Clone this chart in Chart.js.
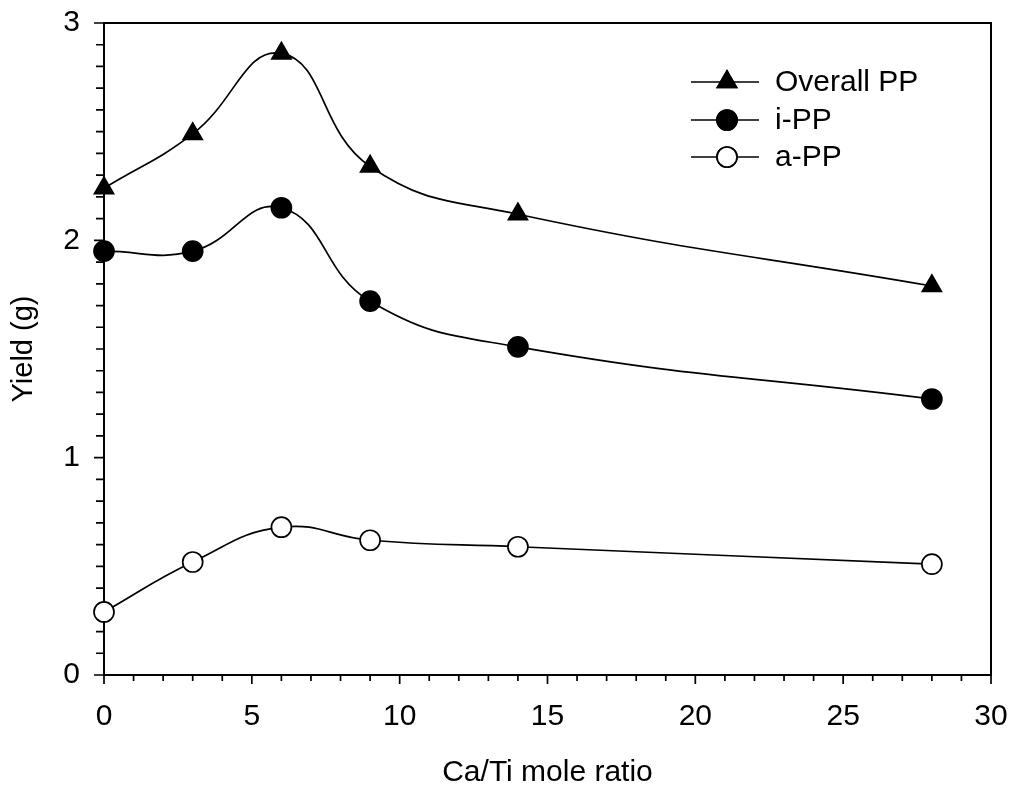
<!DOCTYPE html>
<html>
<head>
<meta charset="utf-8">
<script src="https://cdn.jsdelivr.net/npm/chart.js@4"></script>
<style>
  html, body { margin: 0; padding: 0; background: #fff; }
  #wrap { width: 1016px; height: 791px; }
</style>
</head>
<body>
<div id="wrap"><canvas id="grafico"></canvas></div>
<script>
const ratios = [0, 3, 6, 9, 14, 28];
const overallPP = [2.24, 2.49, 2.86, 2.34, 2.12, 1.79];
const isoPP = [1.95, 1.95, 2.15, 1.72, 1.51, 1.27];
const atacPP = [0.29, 0.52, 0.68, 0.62, 0.59, 0.51];
const seriesNames = ['Overall PP', 'i-PP', 'a-PP'];

const FONT = "'Liberation Sans', Arial, sans-serif";

function puntos(valores) {
    return ratios.map((x, i) => ({ x: x, y: valores[i] }));
}

function serie(label, valores, estilo, relleno, radio) {
    return {
        label: label,
        data: puntos(valores),
        showLine: true,
        tension: 0.45,
        borderColor: '#000',
        borderWidth: 1.7,
        pointStyle: estilo,
        pointRadius: radio,
        pointHoverRadius: radio,
        pointBackgroundColor: relleno,
        pointBorderColor: '#000',
        pointBorderWidth: 1.7,
        clip: false
    };
}

// marcas menores, marco y leyenda
const extras = {
    id: 'extras',
    beforeDatasetsDraw(chart) {
        const ctx = chart.ctx;
        const a = chart.chartArea;
        const xs = chart.scales.x;
        const ys = chart.scales.y;
        ctx.save();
        ctx.strokeStyle = '#000';
        ctx.lineWidth = 2;
        ctx.beginPath();
        ctx.moveTo(a.left, a.top);
        ctx.lineTo(a.right, a.top);
        ctx.lineTo(a.right, a.bottom);
        ctx.stroke();

        ctx.lineWidth = 1.7;
        ctx.beginPath();
        for (let i = 0; i <= 30; i++) {
            const px = xs.getPixelForValue(i);
            const len = i % 5 === 0 ? 9 : 6;
            ctx.moveTo(px, a.bottom);
            ctx.lineTo(px, a.bottom + len);
        }
        for (let i = 0; i <= 30; i++) {
            const py = ys.getPixelForValue(i / 10);
            const len = i % 10 === 0 ? 10 : 8;
            ctx.moveTo(a.left, py);
            ctx.lineTo(a.left - len, py);
        }
        ctx.stroke();
        ctx.restore();
    },
    afterDraw(chart) {
        const ctx = chart.ctx;
        const x0 = 691, x1 = 759, xm = 727, xt = 775;
        const filas = [82, 120, 157];
        ctx.save();
        ctx.strokeStyle = '#000';
        ctx.font = '30px ' + FONT;
        ctx.textBaseline = 'middle';
        chart.data.datasets.forEach((ds, i) => {
            const y = filas[i];
            ctx.beginPath();
            ctx.lineWidth = 1.7;
            ctx.moveTo(x0, y);
            ctx.lineTo(x1, y);
            ctx.stroke();
            Chart.helpers.drawPoint(ctx, {
                pointStyle: ds.pointStyle,
                radius: ds.pointRadius,
                borderWidth: ds.pointBorderWidth,
                rotation: 0
            }, xm, y);
            ctx.fillStyle = ds.pointBackgroundColor;
            ctx.fill();
            ctx.stroke();
            ctx.fillStyle = '#000';
            ctx.fillText(ds.label, xt, y + 1);
        });
        ctx.restore();
    }
};

new Chart(document.getElementById('grafico').getContext('2d'), {
    type: 'scatter',
    data: {
        datasets: [
            serie(seriesNames[0], overallPP, 'triangle', '#000', 11),
            serie(seriesNames[1], isoPP, 'circle', '#000', 10),
            serie(seriesNames[2], atacPP, 'circle', '#fff', 10)
        ]
    },
    options: {
        responsive: true,
        maintainAspectRatio: false,
        animation: false,
        layout: { padding: { top: 23, right: 25, left: 0, bottom: 0 } },
        plugins: {
            legend: { display: false },
            tooltip: { enabled: false }
        },
        scales: {
            x: {
                type: 'linear',
                min: 0,
                max: 30,
                afterFit(scale) {
                    scale.height = 116;
                    scale.paddingLeft = 0;
                    scale.paddingRight = 0;
                },
                grid: { display: false, drawTicks: false },
                border: { display: true, color: '#000', width: 2 },
                ticks: {
                    stepSize: 5,
                    padding: 24,
                    color: '#000',
                    font: { family: FONT, size: 30 }
                },
                title: {
                    display: true,
                    text: 'Ca/Ti mole ratio',
                    color: '#000',
                    font: { family: FONT, size: 30 },
                    padding: { top: 0, bottom: 0 }
                }
            },
            y: {
                min: 0,
                max: 3,
                afterFit(scale) {
                    scale.width = 104;
                    scale.paddingTop = 0;
                    scale.paddingBottom = 0;
                },
                grid: { display: false, drawTicks: false },
                border: { display: true, color: '#000', width: 2 },
                ticks: {
                    stepSize: 1,
                    padding: 24,
                    color: '#000',
                    font: { family: FONT, size: 30 }
                },
                title: {
                    display: true,
                    text: 'Yield (g)',
                    color: '#000',
                    font: { family: FONT, size: 29 },
                    padding: { top: 7, bottom: 0 }
                }
            }
        }
    },
    plugins: [extras]
});
</script>
</body>
</html>
